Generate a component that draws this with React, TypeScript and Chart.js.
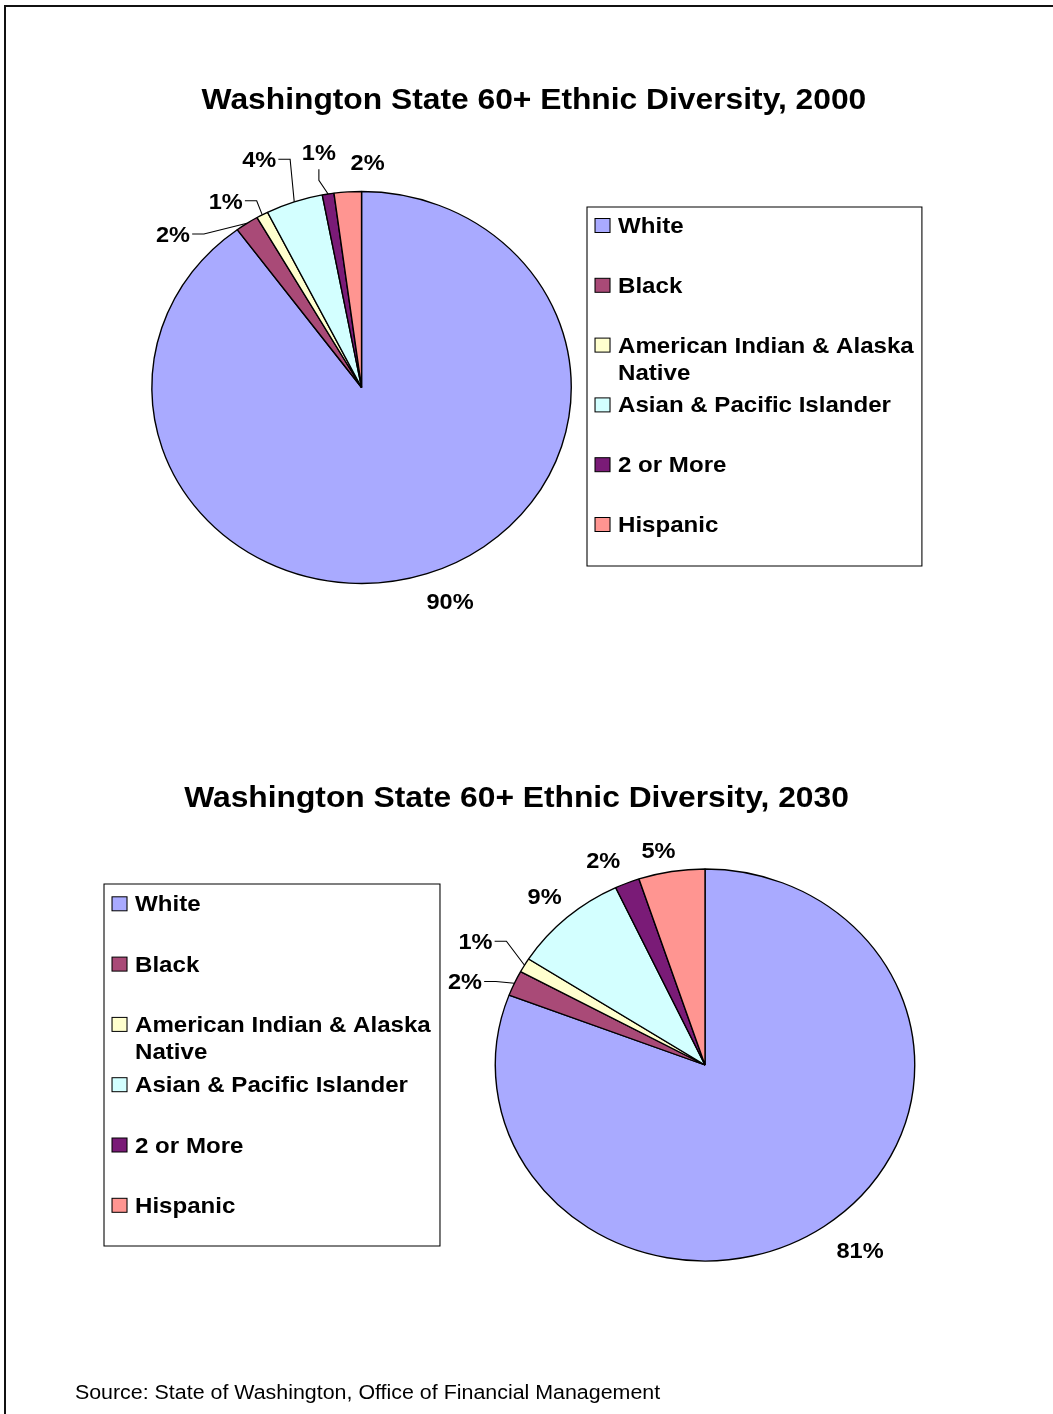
import React, { useEffect, useRef } from 'react';
import { Chart, registerables } from 'chart.js';

Chart.register(...registerables);

// ---------- data ----------
const categories = [
  'White',
  'Black',
  'American Indian & Alaska Native',
  'Asian & Pacific Islander',
  '2 or More',
  'Hispanic',
];
const values2000 = [89.9, 1.8, 0.9, 4.4, 0.9, 2.1];
const values2030 = [80.8, 2.1, 1.2, 8.9, 1.9, 5.1];
const title2000 = 'Washington State 60+ Ethnic Diversity, 2000';
const title2030 = 'Washington State 60+ Ethnic Diversity, 2030';
const sourceText = 'Source: State of Washington, Office of Financial Management';

// ---------- style ----------
const sliceColors = ['#A9AAFF', '#A94A77', '#FFFFCE', '#D3FFFF', '#7A1B77', '#FF9591'];
const FONT = '"Liberation Sans", Arial, Helvetica, sans-serif';
const STRETCH = 1.07; // the original figure is slightly wider than tall
const PAGE_W = 1053;

type Layout = {
  top: number;
  height: number;
  cx: number;
  cy: number;
  r: number;
  titleX: number;
  titleY: number;
  legend: { x: number; y: number; w: number; h: number; first: number; pitch: number };
  labelNudge: number[][];
  leader: string[];
  source?: { x: number; y: number };
};

const layout2000: Layout = {
  top: 0,
  height: 700,
  cx: 337.9,
  cy: 387.5,
  r: 196,
  titleX: 499,
  titleY: 109.3,
  legend: { x: 548.6, y: 207, w: 313, h: 359, first: 26, pitch: 59.8 },
  labelNudge: [[14.7, 6.4], [-57.1, 29.1], [-23.7, 5.3], [-25.7, -21.8], [-5.1, -19.8], [20, -7.5]],
  leader: ['none', 'side', 'side', 'side', 'bottom', 'none'],
};

const layout2030: Layout = {
  top: 700,
  height: 714,
  cx: 658.9,
  cy: 365,
  r: 196,
  titleX: 482.7,
  titleY: 106.8,
  legend: { x: 97.2, y: 184, w: 314, h: 362, first: 27.3, pitch: 60.3 },
  labelNudge: [[21.2, 5.5], [-26.2, 7.5], [-26.9, -12.7], [-6.3, -5.3], [-14.2, -2.1], [-8.8, 0.2]],
  leader: ['none', 'side', 'side', 'none', 'none', 'none'],
  source: { x: 70, y: 698.5 },
};

function wrapText(ctx: CanvasRenderingContext2D, text: string, maxW: number): string[] {
  const words = text.split(' ');
  const lines: string[] = [];
  let cur = '';
  for (const w of words) {
    const t = cur ? cur + ' ' + w : w;
    if (ctx.measureText(t).width > maxW && cur) {
      lines.push(cur);
      cur = w;
    } else cur = t;
  }
  if (cur) lines.push(cur);
  return lines;
}

function makeOverlay(L: Layout, title: string, values: number[]) {
  return {
    id: 'overlay',
    beforeDraw(chart: any) {
      const ctx = chart.ctx as CanvasRenderingContext2D;
      ctx.save();
      ctx.scale(STRETCH, 1);
    },
    afterDraw(chart: any) {
      const ctx = chart.ctx as CanvasRenderingContext2D;
      ctx.save();
      ctx.fillStyle = '#000';
      ctx.strokeStyle = '#000';

      // title
      ctx.font = `bold 29.7px ${FONT}`;
      ctx.textAlign = 'center';
      ctx.textBaseline = 'alphabetic';
      ctx.fillText(title, L.titleX, L.titleY);

      // percentage labels
      const lblSize = 22;
      ctx.font = `bold ${lblSize}px ${FONT}`;
      const capH = 0.716 * lblSize;
      const meta = chart.getDatasetMeta(0);
      meta.data.forEach((arc: any, i: number) => {
        const p = arc.getProps(['x', 'y', 'startAngle', 'endAngle', 'outerRadius'], true);
        const mid = (p.startAngle + p.endAngle) / 2;
        const ex = p.x + p.outerRadius * Math.cos(mid);
        const ey = p.y + p.outerRadius * Math.sin(mid);
        const lx = p.x + (p.outerRadius + 22) * Math.cos(mid) + L.labelNudge[i][0];
        const ly = p.y + (p.outerRadius + 22) * Math.sin(mid) + L.labelNudge[i][1];
        const text = `${Math.round(values[i])}%`;
        const w = ctx.measureText(text).width;
        ctx.textAlign = 'center';
        ctx.fillText(text, lx, ly + capH / 2);
        if (L.leader[i] !== 'none') {
          ctx.beginPath();
          ctx.lineWidth = 1;
          if (L.leader[i] === 'side') {
            ctx.moveTo(lx + w / 2 + 2, ly);
            ctx.lineTo(lx + w / 2 + 13, ly);
          } else {
            ctx.moveTo(lx, ly + capH / 2 + 9);
            ctx.lineTo(lx, ly + capH / 2 + 20);
          }
          ctx.lineTo(ex, ey);
          ctx.stroke();
        }
      });

      // legend
      const lg = L.legend;
      ctx.lineWidth = 1;
      ctx.strokeStyle = '#000';
      ctx.strokeRect(lg.x, lg.y, lg.w, lg.h);
      const legSize = 22.5;
      ctx.font = `bold ${legSize}px ${FONT}`;
      ctx.textAlign = 'left';
      categories.forEach((cat, i) => {
        const base = lg.y + lg.first + i * lg.pitch;
        ctx.fillStyle = sliceColors[i];
        ctx.fillRect(lg.x + 7.5, base - 14.5, 14, 14);
        ctx.strokeStyle = '#000';
        ctx.strokeRect(lg.x + 7.5, base - 14.5, 14, 14);
        ctx.fillStyle = '#000';
        const lines = wrapText(ctx, cat, lg.w - 31);
        lines.forEach((ln, j) => ctx.fillText(ln, lg.x + 29, base + j * 27.3));
      });

      // source
      if (L.source) {
        ctx.font = `20px ${FONT}`;
        ctx.textAlign = 'left';
        ctx.fillText(sourceText, L.source.x, L.source.y);
      }
      ctx.restore();
      ctx.restore();
    },
  };
}

function PieChart({ layout, title, values }: { layout: Layout; title: string; values: number[] }) {
  const ref = useRef<HTMLCanvasElement | null>(null);
  useEffect(() => {
    if (!ref.current) return;
    const L = layout;
    const s = L.r + 4;
    const chart = new Chart(ref.current, {
      type: 'pie',
      data: {
        labels: categories,
        datasets: [
          {
            data: values,
            backgroundColor: sliceColors,
            borderColor: '#000',
            borderWidth: 1.3,
            radius: L.r,
          } as any,
        ],
      },
      options: {
        responsive: false,
        animation: false,
        events: [],
        layout: {
          padding: {
            left: L.cx - s,
            right: PAGE_W - (L.cx + s),
            top: L.cy - s,
            bottom: L.height - (L.cy + s),
          },
        },
        plugins: {
          legend: { display: false },
          title: { display: false },
          tooltip: { enabled: false },
        },
      },
      plugins: [makeOverlay(L, title, values) as any],
    });
    return () => chart.destroy();
  }, [layout, title, values]);
  return (
    <canvas
      ref={ref}
      width={PAGE_W}
      height={layout.height}
      style={{ position: 'absolute', left: 0, top: layout.top, width: PAGE_W, height: layout.height }}
    />
  );
}

export default function App() {
  return (
    <div
      style={{
        position: 'absolute',
        left: 0,
        top: 0,
        width: PAGE_W,
        height: 1414,
        overflow: 'hidden',
        background: '#fff',
      }}
    >
      <div
        style={{
          position: 'absolute',
          left: 4,
          top: 5,
          width: 1200,
          height: 1600,
          borderTop: '2px solid #111',
          borderLeft: '2px solid #111',
        }}
      />
      <PieChart layout={layout2000} title={title2000} values={values2000} />
      <PieChart layout={layout2030} title={title2030} values={values2030} />
    </div>
  );
}
